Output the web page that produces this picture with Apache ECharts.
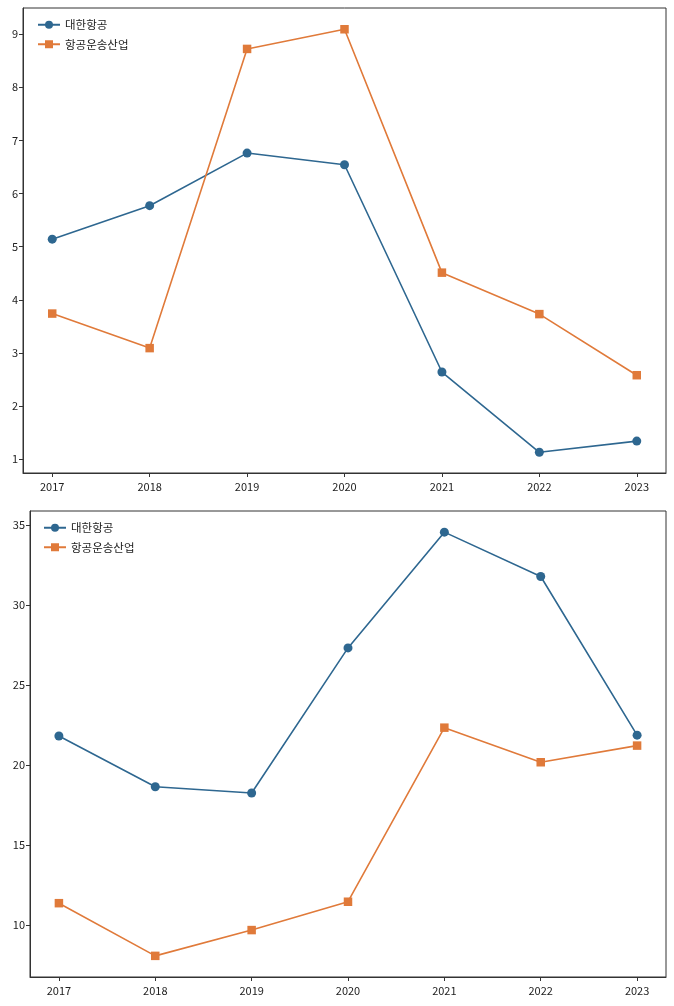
<!DOCTYPE html>
<html>
<head>
<meta charset="utf-8">
<script src="https://cdn.jsdelivr.net/npm/echarts@6/dist/echarts.min.js"></script>
<style>
html, body { margin: 0; padding: 0; background: #fff; }
#chart { width: 674px; height: 1006px; }
</style>
</head>
<body>
<div id="chart"></div>
<script>
var years = [2017, 2018, 2019, 2020, 2021, 2022, 2023];
var seriesNames = ['대한항공', '항공운송산업'];

// 위 차트
var topKorean = [5.14, 5.77, 6.76, 6.54, 2.64, 1.13, 1.34];
var topIndustry = [3.74, 3.09, 8.72, 9.09, 4.51, 3.73, 2.58];
var topTicks = [1, 2, 3, 4, 5, 6, 7, 8, 9];

// 아래 차트
var bottomKorean = [21.81, 18.64, 18.25, 27.31, 34.54, 31.77, 21.86];
var bottomIndustry = [11.37, 8.08, 9.69, 11.46, 22.33, 20.17, 21.21];
var bottomTicks = [10, 15, 20, 25, 30, 35];

var blue = '#2e6790';
var orange = '#e07a3a';
var font = '"Noto Sans CJK KR", "Noto Sans", sans-serif';

function pairs(vals) {
	var out = [];
	for (var i = 0; i < years.length; i++) {
		out.push([years[i], vals[i]]);
	}
	return out;
}

function xAxisFor(idx) {
	return {
		type: 'value',
		gridIndex: idx,
		min: 2016.7,
		max: 2023.3,
		splitLine: { show: false },
		axisLine: { show: true, lineStyle: { color: '#333', width: 1 } },
		axisTick: { show: true, customValues: years, length: 4, lineStyle: { color: '#333' } },
		axisLabel: {
			customValues: years,
			color: '#222',
			fontSize: 11,
			fontFamily: font,
			margin: 8,
			formatter: function(v) { return String(v); }
		}
	};
}

function yAxisFor(idx, min, max, ticks) {
	return {
		type: 'value',
		gridIndex: idx,
		min: min,
		max: max,
		splitLine: { show: false },
		axisLine: { show: true, lineStyle: { color: '#333', width: 1 } },
		axisTick: { show: true, customValues: ticks, length: 4, lineStyle: { color: '#333' } },
		axisLabel: {
			customValues: ticks,
			color: '#222',
			fontSize: 11,
			fontFamily: font,
			margin: 5
		}
	};
}

function lineSeries(name, vals, idx, color, symbol) {
	return {
		name: name,
		type: 'line',
		xAxisIndex: idx,
		yAxisIndex: idx,
		data: pairs(vals),
		symbol: symbol,
		symbolSize: symbol == 'rect' ? 8.5 : 9,
		showSymbol: true,
		itemStyle: { color: color },
		lineStyle: { color: color, width: 1.6 },
		emphasis: { disabled: true }
	};
}

var chart = echarts.init(document.getElementById('chart'), null, { renderer: 'canvas' });
var option = {
	animation: false,
	backgroundColor: '#fff',
	grid: [
		{ left: 23, right: 8, top: 8, height: 465, show: true, borderColor: '#333', borderWidth: 1 },
		{ left: 30, right: 8, top: 511, height: 466, show: true, borderColor: '#333', borderWidth: 1 }
	],
	legend: [
		{
			orient: 'vertical', left: 32, top: 14, itemGap: 8,
			itemWidth: 22, itemHeight: 10,
			data: [{ name: seriesNames[0] }, { name: seriesNames[1] }],
			textStyle: { fontSize: 11.5, fontFamily: font, color: '#222' }
		},
		{
			orient: 'vertical', left: 38, top: 517, itemGap: 8,
			itemWidth: 22, itemHeight: 10,
			data: [{ name: seriesNames[0] }, { name: seriesNames[1] }],
			textStyle: { fontSize: 11.5, fontFamily: font, color: '#222' }
		}
	],
	xAxis: [xAxisFor(0), xAxisFor(1)],
	yAxis: [
		yAxisFor(0, 0.74, 9.49, topTicks),
		yAxisFor(1, 6.76, 35.86, bottomTicks)
	],
	series: [
		lineSeries(seriesNames[0], topKorean, 0, blue, 'circle'),
		lineSeries(seriesNames[1], topIndustry, 0, orange, 'rect'),
		lineSeries(seriesNames[0], bottomKorean, 1, blue, 'circle'),
		lineSeries(seriesNames[1], bottomIndustry, 1, orange, 'rect')
	]
};
chart.setOption(option);
</script>
</body>
</html>
